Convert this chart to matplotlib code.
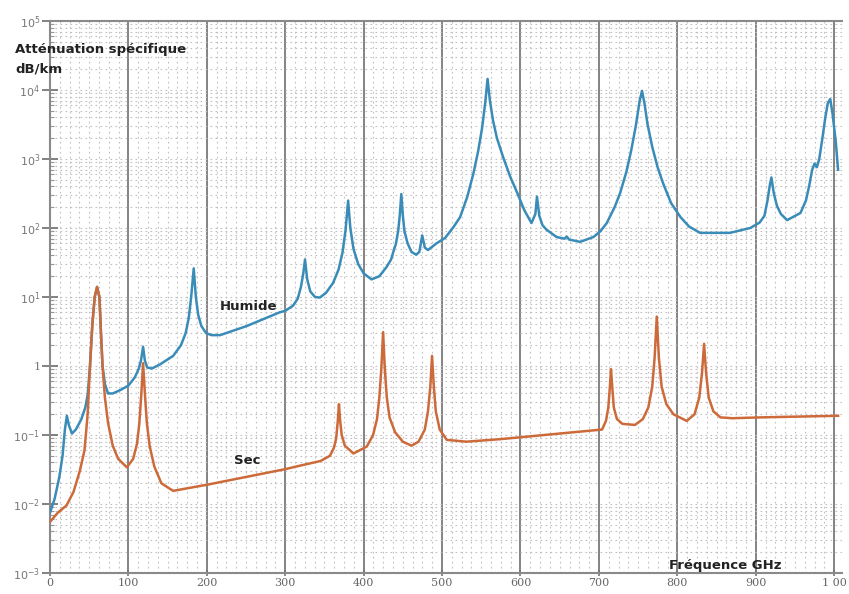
import matplotlib.pyplot as plt
from matplotlib.ticker import FixedLocator, MultipleLocator, LogLocator, NullFormatter

# Humide (vapeur d'eau + oxygène)
f_hum = [0, 6, 12, 16, 19, 21.5, 24, 28, 33, 40, 45, 48, 51, 54, 57, 60, 63, 65, 67,
         70, 74, 80, 90, 100, 108, 113, 116, 118.7, 121, 124, 130, 140, 157, 167, 173, 177,
         180, 183.3, 186, 189, 193, 199, 206, 217, 251, 293, 300, 310, 316, 320, 323, 325.2,
         328, 332, 338, 344, 352, 361, 368, 373, 377, 380.2, 383, 387, 393, 400, 410, 420,
         429, 435, 439, 441, 444, 446, 448, 450, 452, 456, 461, 467, 471, 474.7, 478, 482,
         493, 504, 515, 523, 532, 540, 546, 551, 555, 558, 561, 565, 570, 578, 587, 596,
         605, 614, 619, 621, 624, 628, 633, 646, 656, 659, 662, 676, 693, 702, 710, 720,
         727, 735, 741, 747, 752, 755, 758, 762, 768, 775, 782, 792, 804, 815, 829, 867,
         893, 905, 911, 915, 918, 920, 923, 927, 932, 940, 957, 964, 968, 972, 975, 978,
         981, 985, 989, 992, 995, 998, 1002, 1005]
v_hum = [0.0075, 0.012, 0.025, 0.05, 0.12, 0.19, 0.14, 0.105, 0.12, 0.17, 0.25, 0.38, 1.0, 4, 10, 14, 10, 3, 1.0,
         0.55, 0.4, 0.4, 0.45, 0.52, 0.68, 0.9, 1.2, 1.9, 1.2, 0.95, 0.92, 1.05, 1.4, 2.0, 3.0, 5,
         10, 26, 10, 5.5, 3.8, 3.0, 2.8, 2.8, 3.8, 6, 6.3, 7.5, 9.5, 14, 22, 35,
         18, 12, 10, 9.8, 11.5, 16, 25, 44, 95, 250, 100, 50, 30, 22, 18, 20,
         27, 35, 50, 58, 90, 150, 310, 150, 90, 60, 45, 41, 45, 78, 52, 48,
         60, 72, 105, 144, 280, 620, 1300, 2800, 6500, 14500, 7000, 3600, 2000, 1050, 550, 320,
         180, 118, 160, 285, 150, 110, 95, 74, 70, 75, 68, 63, 74, 90, 118, 200,
         320, 650, 1300, 3000, 7000, 9700, 6500, 3200, 1500, 750, 440, 230, 144, 105, 85, 85,
         100, 120, 150, 250, 420, 540, 320, 210, 160, 130, 165, 250, 400, 700, 860, 760,
         1000, 2000, 4200, 6500, 7400, 4500, 1800, 700]

# Sec (oxygène)
f_sec = [0, 10, 21, 30, 38, 44, 48, 51, 54, 57, 60, 63, 65, 67, 70, 74, 80, 87, 98,
         106, 111, 114, 116.5, 118.7, 121, 123.5, 127, 133, 142, 157, 200, 300, 319, 345, 357, 362, 365,
         367, 368.5, 370, 372, 376, 387, 404, 412, 417, 420, 422.5, 424.8, 427, 429.5, 433, 440,
         450, 461, 470, 478, 482, 485, 487.2, 489.5, 492, 497, 506, 531, 574, 650, 704, 709,
         712, 714, 715.4, 717, 719, 723, 730, 746, 756, 763, 768, 771, 773.8, 776.5, 780, 786,
         795, 812, 822, 828, 831.5, 834.1, 836.7, 840, 846, 855, 870, 906, 1005]
v_sec = [0.0055, 0.0075, 0.0095, 0.015, 0.03, 0.06, 0.2, 1.0, 4, 10, 14, 10, 3, 1.0, 0.35, 0.15, 0.07, 0.045, 0.034,
         0.045, 0.075, 0.15, 0.4, 1.1, 0.4, 0.15, 0.07, 0.035, 0.02, 0.0155, 0.019, 0.032, 0.036, 0.042, 0.05, 0.065, 0.09,
         0.16, 0.28, 0.16, 0.1, 0.07, 0.054, 0.068, 0.1, 0.17, 0.35, 0.9, 3.1, 0.9, 0.35, 0.18, 0.11,
         0.08, 0.07, 0.08, 0.12, 0.22, 0.5, 1.4, 0.5, 0.22, 0.12, 0.085, 0.08, 0.087, 0.105, 0.12, 0.16,
         0.25, 0.5, 0.9, 0.5, 0.25, 0.17, 0.145, 0.14, 0.17, 0.25, 0.5, 1.3, 5.2, 1.3, 0.5, 0.28,
         0.2, 0.16, 0.2, 0.35, 0.8, 2.1, 0.8, 0.35, 0.22, 0.18, 0.175, 0.18, 0.19]

y_ticks = [1e-3, 1e-2, 1e-1, 1, 1e1, 1e2, 1e3, 1e4, 1e5]
y_labels = ['$10^{-3}$', '$10^{-2}$', '$10^{-1}$', '1', '$10^{1}$', '$10^{2}$',
            '$10^{3}$', '$10^{4}$', '$10^{5}$']
x_ticks = [0, 100, 200, 300, 400, 500, 600, 700, 800, 900, 1000]
x_labels = ['0', '100', '200', '300', '400', '500', '600', '700', '800', '900', '1 00']

W, H = 849, 594
fig = plt.figure(figsize=(W / 100, H / 100), dpi=100)
fig.patch.set_facecolor('white')
ax = fig.add_axes([50 / W, 1 - 573 / H, (842 - 50) / W, (573 - 21) / H])

ax.plot(f_hum, v_hum, color='#3a8cb8', lw=1.8, zorder=3)
ax.plot(f_sec, v_sec, color='#cd6a3a', lw=1.8, zorder=4)

ax.set_yscale('log')
ax.set_xlim(0, 1010)
ax.set_ylim(1e-3, 1e5)

ax.yaxis.set_major_locator(FixedLocator(y_ticks))
ax.set_yticklabels(y_labels)
ax.yaxis.set_minor_locator(LogLocator(base=10, subs=range(2, 10), numticks=20))
ax.yaxis.set_minor_formatter(NullFormatter())
ax.set_xticks(x_ticks)
ax.set_xticklabels(x_labels)
ax.xaxis.set_minor_locator(MultipleLocator(12.5))

ax.grid(True, which='major', axis='x', color='#7a7a7a', lw=1.3, ls='-', zorder=1)
ax.grid(True, which='minor', axis='x', color='#c0c0c0', lw=0.8, ls=(0, (1.5, 3)), zorder=1)
ax.grid(True, which='both', axis='y', color='#c0c0c0', lw=0.8, ls=(0, (1.5, 3)), zorder=1)

for s in ['left', 'bottom', 'top']:
    ax.spines[s].set_color('#8a8a8a')
    ax.spines[s].set_linewidth(1.5)
ax.spines['right'].set_visible(False)

ax.tick_params(axis='y', which='major', direction='inout', length=12, width=1.3,
               color='#777777', labelsize=8, labelcolor='#777777', pad=1)
ax.tick_params(axis='y', which='minor', direction='in', length=3, width=0.8, color='#999999')
ax.tick_params(axis='x', which='major', direction='inout', length=5, width=1.2,
               color='#777777', labelsize=8, labelcolor='#666666', pad=1)
ax.tick_params(axis='x', which='minor', length=0)
for lab in ax.get_xticklabels() + ax.get_yticklabels():
    lab.set_family('DejaVu Serif')

fig.text(15 / W, 1 - 50 / H, 'Atténuation spécifique', fontsize=9.5, fontweight='bold',
         color='#222222', va='center', ha='left')
fig.text(15 / W, 1 - 69 / H, 'dB/km', fontsize=9.5, fontweight='bold',
         color='#222222', va='center', ha='left')
fig.text(249 / W, 1 - 307 / H, 'Humide', fontsize=9.5, fontweight='bold',
         color='#222222', va='center', ha='center')
fig.text(247 / W, 1 - 461 / H, 'Sec', fontsize=9.5, fontweight='bold',
         color='#222222', va='center', ha='center')
fig.text(725 / W, 1 - 566 / H, 'Fréquence GHz', fontsize=9.5, fontweight='bold',
         color='#222222', va='center', ha='center')

fig.savefig('out.png', dpi=100)
